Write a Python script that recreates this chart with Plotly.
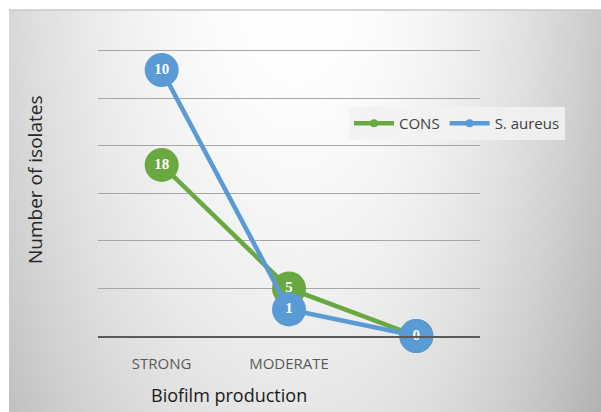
import base64
import struct
import zlib

import numpy as np
import plotly.graph_objects as go

# ---- data -------------------------------------------------------------
categories = ["STRONG", "MODERATE", ""]
cons = [18, 5, 0]
s_aureus = [10, 1, 0]

GREEN = "#6aa842"
BLUE = "#5b9bd5"

# ---- page geometry (px) ------------------------------------------------
W, H = 601, 412
L, R, T, B = 98, 121, 48, 76
plot_w = W - L - R
plot_h = H - T - B


def px_to_paper_x(px):
    return (px - L) / plot_w


def px_to_paper_y(py):
    return 1 - (py - T) / plot_h


# ---- soft grey background panel, written as a small grayscale PNG -------
def gradient_png(w, h):
    xs = np.linspace(9, W, w)
    ys = np.linspace(10, H, h)
    X, Y = np.meshgrid(xs, ys)
    dx = (X - 300) / 300
    horiz = np.where(dx < 0, 40 * dx ** 2, 52 * dx ** 2)
    vert = 24 * (Y / H) ** 1.6
    img = np.clip(255 - horiz - vert, 0, 255).astype(np.uint8)
    raw = b"".join(b"\x00" + row.tobytes() for row in img)

    def chunk(tag, data):
        body = tag + data
        return struct.pack(">I", len(data)) + body + struct.pack(">I", zlib.crc32(body) & 0xFFFFFFFF)

    png = b"\x89PNG\r\n\x1a\n"
    png += chunk(b"IHDR", struct.pack(">IIBBBBB", w, h, 8, 0, 0, 0, 0))
    png += chunk(b"IDAT", zlib.compress(raw, 9))
    png += chunk(b"IEND", b"")
    return "data:image/png;base64," + base64.b64encode(png).decode()


bg_src = gradient_png(200, 140)

x_idx = list(range(len(categories)))

fig = go.Figure()

label_font = dict(family="Liberation Serif", size=15, color="white", weight="bold")

fig.add_trace(go.Scatter(
    x=x_idx, y=cons, name="CONS", yaxis="y",
    mode="lines+markers+text", text=[str(v) for v in cons],
    textposition="middle center", textfont=label_font,
    line=dict(color=GREEN, width=4.5),
    marker=dict(size=34, color=GREEN),
    cliponaxis=False, showlegend=False, hoverinfo="x+y+name",
))
fig.add_trace(go.Scatter(
    x=x_idx, y=s_aureus, name="S. aureus", yaxis="y2",
    mode="lines+markers+text", text=[str(v) for v in s_aureus],
    textposition="middle center", textfont=label_font,
    line=dict(color=BLUE, width=4.5),
    marker=dict(size=34, color=BLUE),
    cliponaxis=False, showlegend=False, hoverinfo="x+y+name",
))

# legend entries with compact symbols
for name, col in (("CONS", GREEN), ("S. aureus", BLUE)):
    fig.add_trace(go.Scatter(
        x=[None], y=[None], name=name, mode="lines+markers",
        line=dict(color=col, width=4.5), marker=dict(size=8, color=col),
        showlegend=True,
    ))

fig.update_layout(
    width=W, height=H,
    margin=dict(l=L, r=R, t=T, b=B, pad=0),
    paper_bgcolor="white",
    plot_bgcolor="rgba(0,0,0,0)",
    font=dict(family="Open Sans", color="#595959"),
    xaxis=dict(
        range=[-0.5, 2.5], tickmode="array", tickvals=x_idx, ticktext=categories,
        showgrid=False, zeroline=False,
        showline=True, linecolor="#595959", linewidth=2,
        ticks="", ticklabelstandoff=13,
        tickfont=dict(family="Open Sans", size=15, color="#595959"),
        fixedrange=True,
    ),
    yaxis=dict(
        range=[0, 30.3], tickmode="array", tickvals=[5, 10, 15, 20, 25, 30],
        showticklabels=False,
        showgrid=True, gridcolor="#a6a6a6", gridwidth=1,
        zeroline=False, showline=False, fixedrange=True,
    ),
    yaxis2=dict(
        range=[0, 10.83], overlaying="y", side="left",
        showticklabels=False, showgrid=False, zeroline=False,
        showline=False, fixedrange=True,
    ),
    legend=dict(
        orientation="h",
        x=px_to_paper_x(349), y=px_to_paper_y(107),
        xanchor="left", yanchor="top",
        bgcolor="rgba(242,242,242,0.85)",
        font=dict(family="Open Sans", size=15, color="#404040"),
        itemwidth=40, tracegroupgap=0,
    ),
    images=[dict(
        source=bg_src, xref="paper", yref="paper",
        x=px_to_paper_x(9), y=px_to_paper_y(10),
        sizex=(W - 9) / plot_w, sizey=(H - 10) / plot_h,
        xanchor="left", yanchor="top", sizing="stretch", layer="below",
    )],
    shapes=[dict(
        type="line", xref="paper", yref="paper",
        x0=px_to_paper_x(9), x1=px_to_paper_x(W),
        y0=px_to_paper_y(10), y1=px_to_paper_y(10),
        line=dict(color="#c8c8c8", width=1.5),
    )],
    annotations=[
        dict(
            text="Number of isolates", xref="paper", yref="paper",
            x=px_to_paper_x(35), y=px_to_paper_y(180),
            xanchor="center", yanchor="middle",
            textangle=-90, showarrow=False,
            font=dict(family="Open Sans", size=19, color="#262626"),
        ),
        dict(
            text="Biofilm production", xref="paper", yref="paper",
            x=px_to_paper_x(229), y=px_to_paper_y(395),
            xanchor="center", yanchor="middle",
            showarrow=False,
            font=dict(family="Open Sans", size=18, color="#1a1a1a"),
        ),
    ],
)

fig.write_html("out.html")
